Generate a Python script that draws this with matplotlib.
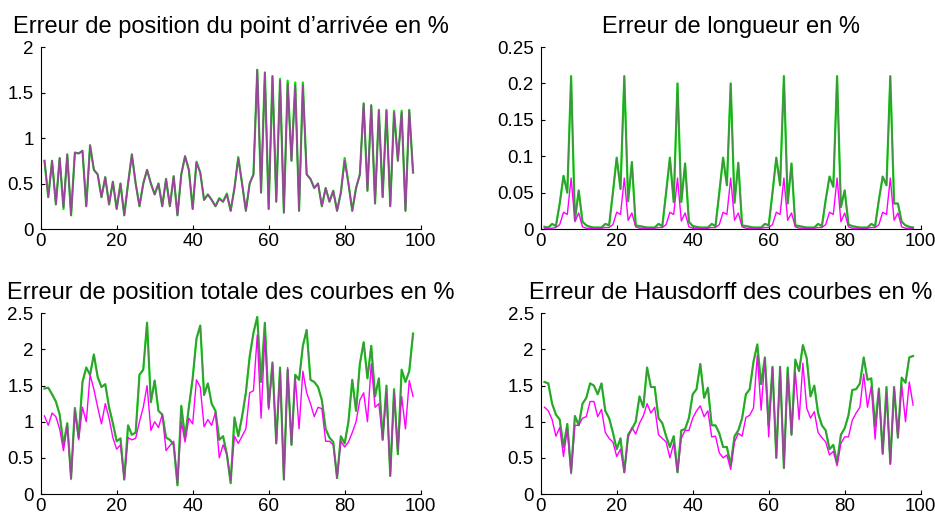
import matplotlib
matplotlib.use('Agg')
import matplotlib.pyplot as plt
from matplotlib.ticker import FormatStrFormatter

plt.rcParams['font.family'] = ['Liberation Sans', 'DejaVu Sans']

x = list(range(1, 99))

# erreur de position du point d'arrivee
arrivee_vert = [0.75, 0.35, 0.75, 0.27, 0.78, 0.22, 0.82, 0.15, 0.84, 0.83,
                0.86, 0.25, 0.92, 0.65, 0.6, 0.35, 0.57, 0.27, 0.52, 0.22,
                0.5, 0.15, 0.5, 0.82, 0.5, 0.25, 0.5, 0.65, 0.5, 0.38,
                0.5, 0.25, 0.55, 0.25, 0.58, 0.15, 0.6, 0.8, 0.65, 0.22,
                0.74, 0.62, 0.32, 0.38, 0.32, 0.25, 0.34, 0.3, 0.39, 0.2,
                0.45, 0.79, 0.5, 0.2, 0.5, 0.6, 1.75, 0.4, 1.72, 0.22,
                1.68, 0.3, 1.65, 0.18, 1.63, 0.75, 1.61, 0.2, 1.61, 0.6,
                0.55, 0.45, 0.5, 0.25, 0.45, 0.3, 0.42, 0.2, 0.4, 0.78,
                0.5, 0.2, 0.45, 0.6, 1.38, 0.42, 1.36, 0.28, 1.31, 0.35,
                1.31, 0.25, 1.3, 0.75, 1.3, 0.2, 1.31, 0.62]
arrivee_mag = [0.75, 0.35, 0.75, 0.27, 0.78, 0.24, 0.82, 0.15, 0.84, 0.83,
               0.86, 0.25, 0.92, 0.65, 0.6, 0.35, 0.57, 0.27, 0.52, 0.22,
               0.5, 0.15, 0.5, 0.82, 0.5, 0.25, 0.5, 0.65, 0.5, 0.38,
               0.5, 0.25, 0.55, 0.25, 0.58, 0.15, 0.6, 0.8, 0.65, 0.22,
               0.73, 0.62, 0.32, 0.38, 0.32, 0.25, 0.33, 0.3, 0.38, 0.2,
               0.45, 0.78, 0.5, 0.2, 0.5, 0.6, 1.75, 0.4, 1.72, 0.22,
               1.68, 0.3, 1.63, 0.18, 1.6, 0.75, 1.58, 0.2, 1.58, 0.6,
               0.55, 0.45, 0.5, 0.25, 0.45, 0.3, 0.42, 0.2, 0.4, 0.75,
               0.5, 0.2, 0.45, 0.6, 1.38, 0.42, 1.36, 0.28, 1.3, 0.35,
               1.3, 0.25, 1.28, 0.75, 1.28, 0.2, 1.3, 0.62]

# erreur de longueur
longueur_vert = [0.003, 0.002, 0.007, 0.004, 0.035, 0.073, 0.05, 0.21, 0.012, 0.053,
                 0.01, 0.005, 0.003, 0.002, 0.002, 0.002, 0.007, 0.005, 0.05, 0.098,
                 0.055, 0.21, 0.038, 0.092, 0.005, 0.004, 0.003, 0.002, 0.002, 0.002,
                 0.007, 0.004, 0.05, 0.098, 0.037, 0.2, 0.037, 0.09, 0.01, 0.004,
                 0.003, 0.002, 0.002, 0.002, 0.007, 0.004, 0.05, 0.098, 0.06, 0.2,
                 0.036, 0.091, 0.005, 0.004, 0.003, 0.002, 0.002, 0.002, 0.007, 0.005,
                 0.05, 0.098, 0.06, 0.21, 0.035, 0.09, 0.005, 0.004, 0.003, 0.002,
                 0.002, 0.002, 0.007, 0.004, 0.04, 0.072, 0.058, 0.21, 0.03, 0.053,
                 0.006, 0.004, 0.003, 0.002, 0.002, 0.002, 0.007, 0.004, 0.04, 0.072,
                 0.06, 0.21, 0.035, 0.035, 0.01, 0.005, 0.003, 0.002]
longueur_mag = [0.001, 0.001, 0.001, 0.002, 0.006, 0.023, 0.02, 0.07, 0.01, 0.022,
                0.003, 0.001, 0.001, 0.001, 0.001, 0.001, 0.002, 0.002, 0.006, 0.023,
                0.02, 0.07, 0.012, 0.022, 0.003, 0.001, 0.001, 0.001, 0.001, 0.001,
                0.002, 0.002, 0.006, 0.023, 0.02, 0.07, 0.011, 0.022, 0.003, 0.001,
                0.001, 0.001, 0.001, 0.001, 0.002, 0.002, 0.006, 0.023, 0.02, 0.07,
                0.012, 0.022, 0.003, 0.001, 0.001, 0.001, 0.001, 0.001, 0.002, 0.002,
                0.006, 0.023, 0.02, 0.07, 0.012, 0.022, 0.003, 0.001, 0.001, 0.001,
                0.001, 0.001, 0.002, 0.002, 0.006, 0.023, 0.02, 0.07, 0.01, 0.022,
                0.003, 0.001, 0.001, 0.001, 0.001, 0.001, 0.002, 0.002, 0.006, 0.023,
                0.02, 0.07, 0.012, 0.022, 0.003, 0.001, 0.001, 0.001]

# erreur de position totale
totale_vert = [1.46, 1.47, 1.38, 1.28, 1.1, 0.68, 0.98, 0.22, 1.19, 0.78,
               1.55, 1.75, 1.65, 1.93, 1.62, 1.48, 1.52, 1.2, 0.98, 0.73,
               0.77, 0.2, 0.95, 0.82, 0.85, 1.65, 1.72, 2.37, 1.27, 1.57,
               1.15, 1.1, 0.78, 0.75, 0.68, 0.12, 1.22, 0.78, 1.2, 1.6,
               2.15, 2.33, 1.37, 1.53, 1.25, 1.15, 0.75, 0.8, 0.55, 0.15,
               1.06, 0.8, 1.07, 1.4, 1.9, 2.23, 2.45, 1.55, 2.37, 1.2,
               1.82, 0.7, 1.75, 0.2, 1.72, 0.68, 1.65, 1.58, 2.05, 2.27,
               1.58, 1.55, 1.48, 1.3, 0.9, 0.78, 0.72, 0.22, 0.8, 0.7,
               1.0, 1.58, 1.15, 1.8, 2.1, 1.6, 2.05, 1.35, 1.6, 0.75,
               1.5, 0.25, 1.45, 0.55, 1.72, 1.55, 1.7, 2.22]
totale_mag = [1.08, 0.95, 1.12, 1.07, 0.9, 0.6, 0.95, 0.2, 1.15, 0.75,
              1.2, 1.0, 1.65, 1.45, 1.2, 0.97, 1.25, 1.05, 0.78, 0.62,
              0.68, 0.2, 0.78, 0.75, 0.77, 1.0, 1.2, 1.5, 0.88, 1.0,
              0.92, 1.1, 0.6, 0.67, 0.73, 0.15, 1.0, 0.72, 1.05, 0.97,
              1.58, 1.48, 0.93, 1.03, 0.95, 1.13, 0.5, 0.68, 0.55, 0.2,
              0.8, 0.7, 0.8, 0.9, 1.4, 1.43, 2.2, 1.05, 2.18, 1.17,
              1.8, 0.7, 1.7, 0.2, 1.75, 0.68, 1.62, 0.9, 1.7, 1.4,
              1.25, 1.07, 1.2, 1.18, 0.73, 0.73, 0.68, 0.22, 0.73, 0.65,
              0.72, 0.85, 1.0, 1.3, 1.4, 1.0, 1.8, 1.2, 1.25, 0.75,
              1.4, 0.25, 1.4, 0.6, 1.35, 0.9, 1.57, 1.35]

# erreur de Hausdorff
hausdorff_vert = [1.55, 1.53, 1.25, 1.1, 1.03, 0.65, 0.97, 0.3, 1.08, 0.95,
                  1.25, 1.33, 1.53, 1.5, 1.38, 1.53, 1.15, 1.05, 0.85, 0.62,
                  0.77, 0.3, 0.82, 0.9, 1.0, 1.35, 1.2, 1.75, 1.48, 1.48,
                  1.05, 0.98, 0.8, 0.65, 0.8, 0.3, 0.88, 0.9, 1.05, 1.38,
                  1.45, 1.8, 1.33, 1.47, 0.95, 0.95, 0.84, 0.65, 0.65, 0.4,
                  0.8, 0.88, 1.05, 1.38, 1.45, 1.83, 2.07, 1.52, 1.89, 0.95,
                  1.76, 0.5, 1.76, 0.36, 1.75, 0.82, 1.86, 1.7, 2.06, 1.88,
                  1.35, 1.5, 1.12, 0.95, 0.88, 0.62, 0.68, 0.43, 0.82, 0.91,
                  1.09, 1.44, 1.45, 1.53, 1.89, 1.58, 1.6, 0.93, 1.46, 0.56,
                  1.48, 0.42, 1.48, 0.78, 1.61, 1.54, 1.89, 1.91]
hausdorff_mag = [1.2, 1.15, 1.03, 0.8, 0.92, 0.52, 0.9, 0.28, 0.95, 0.95,
                 1.05, 1.07, 1.28, 1.28, 1.07, 1.17, 0.85, 0.77, 0.72, 0.52,
                 0.62, 0.3, 0.78, 0.92, 0.83, 0.98, 1.08, 1.25, 1.12, 1.2,
                 0.82, 0.77, 0.72, 0.5, 0.7, 0.3, 0.77, 0.88, 0.88, 1.05,
                 1.15, 1.22, 1.07, 1.15, 0.79, 0.8, 0.57, 0.5, 0.54, 0.34,
                 0.72, 0.84, 0.8, 1.06, 1.09, 1.19, 1.92, 1.16, 1.88, 0.79,
                 1.75, 0.5, 1.75, 0.36, 1.69, 0.82, 1.69, 1.03, 1.81, 1.19,
                 1.05, 1.14, 0.85, 0.78, 0.72, 0.54, 0.59, 0.39, 0.7, 0.79,
                 0.79, 1.02, 1.12, 1.2, 1.66, 1.2, 1.49, 0.76, 1.44, 0.55,
                 1.38, 0.41, 1.48, 0.78, 1.51, 1.0, 1.55, 1.23]

titres = ["Erreur de position du point d\u2019arrivée en %",
          "Erreur de longueur en %",
          "Erreur de position totale des courbes en %",
          "Erreur de Hausdorff des courbes en %"]
verts = [arrivee_vert, longueur_vert, totale_vert, hausdorff_vert]
mags = [arrivee_mag, longueur_mag, totale_mag, hausdorff_mag]
# la trace grise suit le vert, sauf en haut a gauche
gris = [arrivee_mag, longueur_vert, totale_vert, hausdorff_vert]
ymax = [2, 0.25, 2.5, 2.5]
ypas = [0.5, 0.05, 0.5, 0.5]

fig = plt.figure(figsize=(9.35, 5.16), dpi=100)
positions = [[0.0435, 0.5562, 0.4064, 0.3527],
             [0.5783, 0.5562, 0.4064, 0.3527],
             [0.0435, 0.0426, 0.4064, 0.3502],
             [0.5783, 0.0426, 0.4064, 0.3502]]

for k in range(4):
    ax = fig.add_axes(positions[k])
    ax.plot(x, verts[k], color=(0, 0.9, 0), lw=1.6)
    ax.plot(x, mags[k], color=(1, 0, 1), lw=1.0)
    ax.plot(x, gris[k], color=(0.4, 0.4, 0.4), lw=1.1, alpha=0.65)
    ax.set_xlim(0, 100)
    ax.set_ylim(0, ymax[k])
    ax.set_xticks(range(0, 101, 20))
    n = int(round(ymax[k] / ypas[k]))
    ax.set_yticks([i * ypas[k] for i in range(n + 1)])
    ax.yaxis.set_major_formatter(FormatStrFormatter('%g'))
    ax.spines['top'].set_visible(False)
    ax.spines['right'].set_visible(False)
    ax.tick_params(direction='in', labelsize=13.5, length=3)
    ax.tick_params(axis='x', pad=3)
    ax.tick_params(axis='y', pad=5)
    ax.set_title(titres[k], fontsize=17, pad=10)

fig.savefig('out.png', dpi=100)
